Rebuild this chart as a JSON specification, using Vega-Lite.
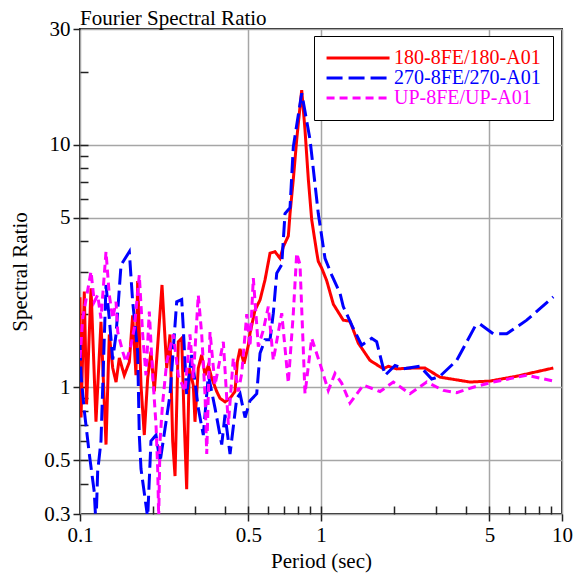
{
  "$schema": "https://vega.github.io/schema/vega-lite/v6.json",
  "width": 482,
  "height": 485,
  "autosize": {"type": "none"},
  "padding": {"left": 80, "top": 29, "right": 16, "bottom": 67},
  "background": "white",
  "config": {
    "font": "Liberation Serif",
    "view": {"stroke": "#222222", "strokeWidth": 2},
    "axis": {
      "labelFont": "Liberation Serif",
      "titleFont": "Liberation Serif",
      "labelFontSize": 21,
      "titleFontSize": 21,
      "titleFontWeight": "normal",
      "labelColor": "black",
      "titleColor": "black",
      "domain": false,
      "gridColor": "#a6a6a6",
      "gridWidth": 1.5,
      "tickColor": "#222222",
      "tickWidth": 1.5,
      "labelFlush": false,
      "labelOverlap": false
    }
  },
  "title": {
    "text": "Fourier Spectral Ratio",
    "anchor": "start",
    "frame": "group",
    "font": "Liberation Serif",
    "fontSize": 21,
    "fontWeight": "normal",
    "color": "black",
    "offset": 3,
    "dy": 14
  },
  "datasets": {
    "spec": [
      {"series": "180-8FE/180-A01", "period": 0.1, "ratio": 2.35},
      {"series": "180-8FE/180-A01", "period": 0.101, "ratio": 0.75},
      {"series": "180-8FE/180-A01", "period": 0.1042, "ratio": 2.48},
      {"series": "180-8FE/180-A01", "period": 0.1065, "ratio": 0.85},
      {"series": "180-8FE/180-A01", "period": 0.1111, "ratio": 2.56},
      {"series": "180-8FE/180-A01", "period": 0.1165, "ratio": 0.72},
      {"series": "180-8FE/180-A01", "period": 0.1222, "ratio": 1.86},
      {"series": "180-8FE/180-A01", "period": 0.1282, "ratio": 0.58},
      {"series": "180-8FE/180-A01", "period": 0.1323, "ratio": 1.65},
      {"series": "180-8FE/180-A01", "period": 0.1367, "ratio": 1.2},
      {"series": "180-8FE/180-A01", "period": 0.1411, "ratio": 1.05},
      {"series": "180-8FE/180-A01", "period": 0.1456, "ratio": 1.32},
      {"series": "180-8FE/180-A01", "period": 0.1527, "ratio": 1.12},
      {"series": "180-8FE/180-A01", "period": 0.1602, "ratio": 1.27},
      {"series": "180-8FE/180-A01", "period": 0.1654, "ratio": 1.98},
      {"series": "180-8FE/180-A01", "period": 0.1707, "ratio": 1.12},
      {"series": "180-8FE/180-A01", "period": 0.1735, "ratio": 2.74},
      {"series": "180-8FE/180-A01", "period": 0.1791, "ratio": 1.02},
      {"series": "180-8FE/180-A01", "period": 0.1848, "ratio": 0.635},
      {"series": "180-8FE/180-A01", "period": 0.1909, "ratio": 1.09},
      {"series": "180-8FE/180-A01", "period": 0.197, "ratio": 1.4},
      {"series": "180-8FE/180-A01", "period": 0.2034, "ratio": 0.96},
      {"series": "180-8FE/180-A01", "period": 0.2101, "ratio": 1.49},
      {"series": "180-8FE/180-A01", "period": 0.2189, "ratio": 2.64},
      {"series": "180-8FE/180-A01", "period": 0.229, "ratio": 1.2},
      {"series": "180-8FE/180-A01", "period": 0.2363, "ratio": 1.65},
      {"series": "180-8FE/180-A01", "period": 0.2424, "ratio": 0.6},
      {"series": "180-8FE/180-A01", "period": 0.2479, "ratio": 0.43},
      {"series": "180-8FE/180-A01", "period": 0.2558, "ratio": 1.54},
      {"series": "180-8FE/180-A01", "period": 0.2642, "ratio": 1.59},
      {"series": "180-8FE/180-A01", "period": 0.2701, "ratio": 0.77},
      {"series": "180-8FE/180-A01", "period": 0.2771, "ratio": 0.38},
      {"series": "180-8FE/180-A01", "period": 0.2841, "ratio": 1.2},
      {"series": "180-8FE/180-A01", "period": 0.2952, "ratio": 1.02},
      {"series": "180-8FE/180-A01", "period": 0.3, "ratio": 0.72},
      {"series": "180-8FE/180-A01", "period": 0.3096, "ratio": 1.2},
      {"series": "180-8FE/180-A01", "period": 0.3199, "ratio": 1.36},
      {"series": "180-8FE/180-A01", "period": 0.3302, "ratio": 1.12},
      {"series": "180-8FE/180-A01", "period": 0.3408, "ratio": 1.23},
      {"series": "180-8FE/180-A01", "period": 0.352, "ratio": 1.09},
      {"series": "180-8FE/180-A01", "period": 0.3692, "ratio": 0.96},
      {"series": "180-8FE/180-A01", "period": 0.381, "ratio": 0.9},
      {"series": "180-8FE/180-A01", "period": 0.4, "ratio": 0.87},
      {"series": "180-8FE/180-A01", "period": 0.4193, "ratio": 0.9},
      {"series": "180-8FE/180-A01", "period": 0.4397, "ratio": 0.96},
      {"series": "180-8FE/180-A01", "period": 0.4495, "ratio": 1.27},
      {"series": "180-8FE/180-A01", "period": 0.4613, "ratio": 1.44},
      {"series": "180-8FE/180-A01", "period": 0.4794, "ratio": 1.25},
      {"series": "180-8FE/180-A01", "period": 0.4995, "ratio": 1.49},
      {"series": "180-8FE/180-A01", "period": 0.5076, "ratio": 1.67},
      {"series": "180-8FE/180-A01", "period": 0.5324, "ratio": 2.08},
      {"series": "180-8FE/180-A01", "period": 0.5585, "ratio": 2.29},
      {"series": "180-8FE/180-A01", "period": 0.5857, "ratio": 2.77},
      {"series": "180-8FE/180-A01", "period": 0.6144, "ratio": 3.57},
      {"series": "180-8FE/180-A01", "period": 0.6443, "ratio": 3.62},
      {"series": "180-8FE/180-A01", "period": 0.6761, "ratio": 3.4},
      {"series": "180-8FE/180-A01", "period": 0.6977, "ratio": 3.8},
      {"series": "180-8FE/180-A01", "period": 0.7318, "ratio": 4.2},
      {"series": "180-8FE/180-A01", "period": 0.7438, "ratio": 5.2},
      {"series": "180-8FE/180-A01", "period": 0.7676, "ratio": 7.2},
      {"series": "180-8FE/180-A01", "period": 0.7929, "ratio": 10.5},
      {"series": "180-8FE/180-A01", "period": 0.8317, "ratio": 16.8},
      {"series": "180-8FE/180-A01", "period": 0.8583, "ratio": 11.5},
      {"series": "180-8FE/180-A01", "period": 0.886, "ratio": 7.2},
      {"series": "180-8FE/180-A01", "period": 0.915, "ratio": 4.9},
      {"series": "180-8FE/180-A01", "period": 0.9598, "ratio": 3.6},
      {"series": "180-8FE/180-A01", "period": 0.9745, "ratio": 3.3},
      {"series": "180-8FE/180-A01", "period": 1.0067, "ratio": 3.1},
      {"series": "180-8FE/180-A01", "period": 1.056, "ratio": 2.75},
      {"series": "180-8FE/180-A01", "period": 1.125, "ratio": 2.2},
      {"series": "180-8FE/180-A01", "period": 1.237, "ratio": 1.89},
      {"series": "180-8FE/180-A01", "period": 1.319, "ratio": 1.87},
      {"series": "180-8FE/180-A01", "period": 1.428, "ratio": 1.52},
      {"series": "180-8FE/180-A01", "period": 1.597, "ratio": 1.29},
      {"series": "180-8FE/180-A01", "period": 1.814, "ratio": 1.19},
      {"series": "180-8FE/180-A01", "period": 1.902, "ratio": 1.22},
      {"series": "180-8FE/180-A01", "period": 2.062, "ratio": 1.19},
      {"series": "180-8FE/180-A01", "period": 2.416, "ratio": 1.2},
      {"series": "180-8FE/180-A01", "period": 2.701, "ratio": 1.2},
      {"series": "180-8FE/180-A01", "period": 3.117, "ratio": 1.1},
      {"series": "180-8FE/180-A01", "period": 4.153, "ratio": 1.05},
      {"series": "180-8FE/180-A01", "period": 5.026, "ratio": 1.06},
      {"series": "180-8FE/180-A01", "period": 6.486, "ratio": 1.11},
      {"series": "180-8FE/180-A01", "period": 9.203, "ratio": 1.2},

      {"series": "270-8FE/270-A01", "period": 0.1, "ratio": 1.5},
      {"series": "270-8FE/270-A01", "period": 0.101, "ratio": 1.12},
      {"series": "270-8FE/270-A01", "period": 0.1042, "ratio": 0.8},
      {"series": "270-8FE/270-A01", "period": 0.1093, "ratio": 0.53},
      {"series": "270-8FE/270-A01", "period": 0.1146, "ratio": 0.37},
      {"series": "270-8FE/270-A01", "period": 0.1165, "ratio": 0.27},
      {"series": "270-8FE/270-A01", "period": 0.1184, "ratio": 0.45},
      {"series": "270-8FE/270-A01", "period": 0.1222, "ratio": 0.6},
      {"series": "270-8FE/270-A01", "period": 0.1282, "ratio": 2.64},
      {"series": "270-8FE/270-A01", "period": 0.1323, "ratio": 1.92},
      {"series": "270-8FE/270-A01", "period": 0.1367, "ratio": 1.3},
      {"series": "270-8FE/270-A01", "period": 0.1411, "ratio": 1.65},
      {"series": "270-8FE/270-A01", "period": 0.148, "ratio": 3.19},
      {"series": "270-8FE/270-A01", "period": 0.1602, "ratio": 3.62},
      {"series": "270-8FE/270-A01", "period": 0.1654, "ratio": 2.25},
      {"series": "270-8FE/270-A01", "period": 0.1735, "ratio": 1.4},
      {"series": "270-8FE/270-A01", "period": 0.1762, "ratio": 0.635},
      {"series": "270-8FE/270-A01", "period": 0.1791, "ratio": 0.46},
      {"series": "270-8FE/270-A01", "period": 0.1909, "ratio": 0.29},
      {"series": "270-8FE/270-A01", "period": 0.197, "ratio": 0.6},
      {"series": "270-8FE/270-A01", "period": 0.2067, "ratio": 0.635},
      {"series": "270-8FE/270-A01", "period": 0.2148, "ratio": 0.49},
      {"series": "270-8FE/270-A01", "period": 0.2363, "ratio": 0.93},
      {"series": "270-8FE/270-A01", "period": 0.2519, "ratio": 2.25},
      {"series": "270-8FE/270-A01", "period": 0.2642, "ratio": 2.3},
      {"series": "270-8FE/270-A01", "period": 0.2683, "ratio": 1.75},
      {"series": "270-8FE/270-A01", "period": 0.2771, "ratio": 0.93},
      {"series": "270-8FE/270-A01", "period": 0.2907, "ratio": 1.36},
      {"series": "270-8FE/270-A01", "period": 0.3096, "ratio": 0.82},
      {"series": "270-8FE/270-A01", "period": 0.3248, "ratio": 0.635},
      {"series": "270-8FE/270-A01", "period": 0.3408, "ratio": 1.12},
      {"series": "270-8FE/270-A01", "period": 0.3633, "ratio": 0.82},
      {"series": "270-8FE/270-A01", "period": 0.3873, "ratio": 0.58},
      {"series": "270-8FE/270-A01", "period": 0.3997, "ratio": 0.77},
      {"series": "270-8FE/270-A01", "period": 0.4193, "ratio": 0.53},
      {"series": "270-8FE/270-A01", "period": 0.447, "ratio": 0.9},
      {"series": "270-8FE/270-A01", "period": 0.4613, "ratio": 0.94},
      {"series": "270-8FE/270-A01", "period": 0.484, "ratio": 0.75},
      {"series": "270-8FE/270-A01", "period": 0.5076, "ratio": 0.88},
      {"series": "270-8FE/270-A01", "period": 0.5411, "ratio": 0.94},
      {"series": "270-8FE/270-A01", "period": 0.5585, "ratio": 1.38},
      {"series": "270-8FE/270-A01", "period": 0.5857, "ratio": 1.57},
      {"series": "270-8FE/270-A01", "period": 0.6144, "ratio": 1.57},
      {"series": "270-8FE/270-A01", "period": 0.6341, "ratio": 2.02},
      {"series": "270-8FE/270-A01", "period": 0.6551, "ratio": 2.95},
      {"series": "270-8FE/270-A01", "period": 0.6871, "ratio": 3.2},
      {"series": "270-8FE/270-A01", "period": 0.7091, "ratio": 5.2},
      {"series": "270-8FE/270-A01", "period": 0.7438, "ratio": 5.5},
      {"series": "270-8FE/270-A01", "period": 0.7676, "ratio": 9.8},
      {"series": "270-8FE/270-A01", "period": 0.8317, "ratio": 16.3},
      {"series": "270-8FE/270-A01", "period": 0.9004, "ratio": 10.5},
      {"series": "270-8FE/270-A01", "period": 0.9745, "ratio": 5.2},
      {"series": "270-8FE/270-A01", "period": 1.039, "ratio": 3.4},
      {"series": "270-8FE/270-A01", "period": 1.108, "ratio": 2.9},
      {"series": "270-8FE/270-A01", "period": 1.199, "ratio": 2.44},
      {"series": "270-8FE/270-A01", "period": 1.237, "ratio": 2.15},
      {"series": "270-8FE/270-A01", "period": 1.361, "ratio": 1.75},
      {"series": "270-8FE/270-A01", "period": 1.475, "ratio": 1.49},
      {"series": "270-8FE/270-A01", "period": 1.623, "ratio": 1.59},
      {"series": "270-8FE/270-A01", "period": 1.702, "ratio": 1.54},
      {"series": "270-8FE/270-A01", "period": 1.844, "ratio": 1.12},
      {"series": "270-8FE/270-A01", "period": 2.028, "ratio": 1.23},
      {"series": "270-8FE/270-A01", "period": 2.195, "ratio": 1.19},
      {"series": "270-8FE/270-A01", "period": 2.575, "ratio": 1.22},
      {"series": "270-8FE/270-A01", "period": 2.879, "ratio": 1.08},
      {"series": "270-8FE/270-A01", "period": 3.117, "ratio": 1.11},
      {"series": "270-8FE/270-A01", "period": 3.658, "ratio": 1.29},
      {"series": "270-8FE/270-A01", "period": 4.355, "ratio": 1.78},
      {"series": "270-8FE/270-A01", "period": 4.568, "ratio": 1.82},
      {"series": "270-8FE/270-A01", "period": 5.187, "ratio": 1.66},
      {"series": "270-8FE/270-A01", "period": 5.896, "ratio": 1.66},
      {"series": "270-8FE/270-A01", "period": 7.136, "ratio": 1.89},
      {"series": "270-8FE/270-A01", "period": 9.203, "ratio": 2.36},

      {"series": "UP-8FE/UP-A01", "period": 0.1, "ratio": 1.32},
      {"series": "UP-8FE/UP-A01", "period": 0.1026, "ratio": 1.92},
      {"series": "UP-8FE/UP-A01", "period": 0.1111, "ratio": 3.0},
      {"series": "UP-8FE/UP-A01", "period": 0.1146, "ratio": 2.25},
      {"series": "UP-8FE/UP-A01", "period": 0.1184, "ratio": 2.4},
      {"series": "UP-8FE/UP-A01", "period": 0.1222, "ratio": 1.92},
      {"series": "UP-8FE/UP-A01", "period": 0.1261, "ratio": 2.9},
      {"series": "UP-8FE/UP-A01", "period": 0.1282, "ratio": 3.62},
      {"series": "UP-8FE/UP-A01", "period": 0.1323, "ratio": 2.4},
      {"series": "UP-8FE/UP-A01", "period": 0.1367, "ratio": 1.92},
      {"series": "UP-8FE/UP-A01", "period": 0.1411, "ratio": 2.25},
      {"series": "UP-8FE/UP-A01", "period": 0.1434, "ratio": 1.69},
      {"series": "UP-8FE/UP-A01", "period": 0.1504, "ratio": 1.4},
      {"series": "UP-8FE/UP-A01", "period": 0.1552, "ratio": 1.27},
      {"series": "UP-8FE/UP-A01", "period": 0.1627, "ratio": 1.49},
      {"series": "UP-8FE/UP-A01", "period": 0.168, "ratio": 1.75},
      {"series": "UP-8FE/UP-A01", "period": 0.1762, "ratio": 2.9},
      {"series": "UP-8FE/UP-A01", "period": 0.182, "ratio": 1.65},
      {"series": "UP-8FE/UP-A01", "period": 0.1878, "ratio": 1.12},
      {"series": "UP-8FE/UP-A01", "period": 0.1939, "ratio": 2.05},
      {"series": "UP-8FE/UP-A01", "period": 0.2003, "ratio": 1.12},
      {"series": "UP-8FE/UP-A01", "period": 0.2067, "ratio": 0.7},
      {"series": "UP-8FE/UP-A01", "period": 0.2101, "ratio": 0.46},
      {"series": "UP-8FE/UP-A01", "period": 0.2121, "ratio": 0.29},
      {"series": "UP-8FE/UP-A01", "period": 0.2148, "ratio": 0.6},
      {"series": "UP-8FE/UP-A01", "period": 0.22, "ratio": 0.85},
      {"series": "UP-8FE/UP-A01", "period": 0.229, "ratio": 1.27},
      {"series": "UP-8FE/UP-A01", "period": 0.2439, "ratio": 1.65},
      {"series": "UP-8FE/UP-A01", "period": 0.2558, "ratio": 1.12},
      {"series": "UP-8FE/UP-A01", "period": 0.2727, "ratio": 0.96},
      {"series": "UP-8FE/UP-A01", "period": 0.286, "ratio": 1.65},
      {"series": "UP-8FE/UP-A01", "period": 0.2952, "ratio": 1.09},
      {"series": "UP-8FE/UP-A01", "period": 0.3096, "ratio": 2.4},
      {"series": "UP-8FE/UP-A01", "period": 0.3199, "ratio": 1.65},
      {"series": "UP-8FE/UP-A01", "period": 0.3302, "ratio": 0.93},
      {"series": "UP-8FE/UP-A01", "period": 0.3356, "ratio": 0.53},
      {"series": "UP-8FE/UP-A01", "period": 0.3463, "ratio": 1.69},
      {"series": "UP-8FE/UP-A01", "period": 0.3633, "ratio": 1.02},
      {"series": "UP-8FE/UP-A01", "period": 0.3933, "ratio": 1.54},
      {"series": "UP-8FE/UP-A01", "period": 0.4126, "ratio": 0.7},
      {"series": "UP-8FE/UP-A01", "period": 0.4327, "ratio": 1.32},
      {"series": "UP-8FE/UP-A01", "period": 0.4539, "ratio": 0.96},
      {"series": "UP-8FE/UP-A01", "period": 0.4689, "ratio": 1.14},
      {"series": "UP-8FE/UP-A01", "period": 0.484, "ratio": 1.65},
      {"series": "UP-8FE/UP-A01", "period": 0.4919, "ratio": 2.0},
      {"series": "UP-8FE/UP-A01", "period": 0.5076, "ratio": 1.47},
      {"series": "UP-8FE/UP-A01", "period": 0.5238, "ratio": 2.82},
      {"series": "UP-8FE/UP-A01", "period": 0.5494, "ratio": 1.47},
      {"series": "UP-8FE/UP-A01", "period": 0.5764, "ratio": 1.72},
      {"series": "UP-8FE/UP-A01", "period": 0.6045, "ratio": 2.15},
      {"series": "UP-8FE/UP-A01", "period": 0.6341, "ratio": 1.29},
      {"series": "UP-8FE/UP-A01", "period": 0.6871, "ratio": 2.02},
      {"series": "UP-8FE/UP-A01", "period": 0.7318, "ratio": 1.04},
      {"series": "UP-8FE/UP-A01", "period": 0.7676, "ratio": 2.02},
      {"series": "UP-8FE/UP-A01", "period": 0.7929, "ratio": 3.57},
      {"series": "UP-8FE/UP-A01", "period": 0.8183, "ratio": 3.2},
      {"series": "UP-8FE/UP-A01", "period": 0.8583, "ratio": 0.94},
      {"series": "UP-8FE/UP-A01", "period": 0.915, "ratio": 1.59},
      {"series": "UP-8FE/UP-A01", "period": 0.9906, "ratio": 1.25},
      {"series": "UP-8FE/UP-A01", "period": 1.072, "ratio": 0.97},
      {"series": "UP-8FE/UP-A01", "period": 1.143, "ratio": 1.14},
      {"series": "UP-8FE/UP-A01", "period": 1.218, "ratio": 1.04},
      {"series": "UP-8FE/UP-A01", "period": 1.319, "ratio": 0.86},
      {"series": "UP-8FE/UP-A01", "period": 1.498, "ratio": 1.02},
      {"series": "UP-8FE/UP-A01", "period": 1.757, "ratio": 0.96},
      {"series": "UP-8FE/UP-A01", "period": 1.995, "ratio": 1.05},
      {"series": "UP-8FE/UP-A01", "period": 2.341, "ratio": 0.94},
      {"series": "UP-8FE/UP-A01", "period": 2.745, "ratio": 1.05},
      {"series": "UP-8FE/UP-A01", "period": 3.217, "ratio": 0.97},
      {"series": "UP-8FE/UP-A01", "period": 3.658, "ratio": 0.95},
      {"series": "UP-8FE/UP-A01", "period": 4.285, "ratio": 1.0},
      {"series": "UP-8FE/UP-A01", "period": 5.187, "ratio": 1.05},
      {"series": "UP-8FE/UP-A01", "period": 7.136, "ratio": 1.12},
      {"series": "UP-8FE/UP-A01", "period": 9.203, "ratio": 1.06}
    ]
  },
  "data": {"name": "spec"},
  "layer": [
    {
      "mark": {"type": "line", "clip": true, "strokeWidth": 3},
      "encoding": {
        "x": {
          "field": "period", "type": "quantitative",
          "scale": {"type": "log", "domain": [0.1, 10], "nice": false},
          "axis": {"orient": "bottom", "values": [0.1, 0.5, 1, 5, 10], "format": "~g", "title": "Period (sec)", "labelFont": "Liberation Serif", "titleFont": "Liberation Serif", "labelFontSize": 21, "titleFontSize": 21, "tickSize": 7, "labelPadding": 3, "titlePadding": 5, "grid": true}
        },
        "y": {
          "field": "ratio", "type": "quantitative",
          "scale": {"type": "log", "domain": [0.3, 30], "nice": false},
          "axis": {"orient": "left", "values": [0.3, 0.5, 1, 5, 10, 30], "format": "~g", "title": "Spectral Ratio", "labelFont": "Liberation Serif", "titleFont": "Liberation Serif", "labelFontSize": 21, "titleFontSize": 21, "tickSize": 7, "labelPadding": 3, "titlePadding": 13, "grid": true}
        },
        "color": {
          "field": "series", "type": "nominal",
          "scale": {"domain": ["180-8FE/180-A01", "270-8FE/270-A01", "UP-8FE/UP-A01"], "range": ["#ff0000", "#0000ff", "#ff00ff"]},
          "legend": {
            "orient": "none", "legendX": 234, "legendY": 7, "title": null,
            "symbolType": "M-1.2,0H6.8", "symbolSize": 248, "symbolStrokeWidth": 3,
            "labelFont": "Liberation Serif", "labelFontSize": 20, "labelLimit": 400,
            "labelColor": {"expr": "datum.label == '180-8FE/180-A01' ? '#ff0000' : datum.label == '270-8FE/270-A01' ? '#0000ff' : '#ff00ff'"},
            "strokeColor": "black", "fillColor": "white", "padding": 12, "rowPadding": 0, "labelOffset": 48
          }
        },
        "strokeDash": {
          "field": "series", "type": "nominal",
          "scale": {"domain": ["180-8FE/180-A01", "270-8FE/270-A01", "UP-8FE/UP-A01"], "range": [[1, 0], [16, 6], [8, 5]]},
          "legend": {
            "orient": "none", "legendX": 234, "legendY": 7, "title": null,
            "symbolType": "M-1.2,0H6.8", "symbolSize": 248, "symbolStrokeWidth": 3,
            "labelFont": "Liberation Serif", "labelFontSize": 20, "labelLimit": 400,
            "labelColor": {"expr": "datum.label == '180-8FE/180-A01' ? '#ff0000' : datum.label == '270-8FE/270-A01' ? '#0000ff' : '#ff00ff'"},
            "strokeColor": "black", "fillColor": "white", "padding": 12, "rowPadding": 0, "labelOffset": 48
          }
        }
      }
    },
    {
      "mark": {"type": "line", "strokeOpacity": 0},
      "encoding": {
        "x": {
          "field": "period", "type": "quantitative",
          "axis": {"orient": "bottom", "values": [0.2, 0.3, 0.4, 0.5, 0.6, 0.7, 0.8, 0.9, 1, 2, 3, 4, 5, 6, 7, 8, 9], "labels": false, "grid": false, "title": null, "tickSize": -8}
        },
        "y": {
          "field": "ratio", "type": "quantitative",
          "axis": {"orient": "left", "values": [0.4, 0.5, 0.6, 0.7, 0.8, 0.9, 1, 2, 3, 4, 5, 6, 7, 8, 9, 10, 20], "labels": false, "grid": false, "title": null, "tickSize": -8}
        },
        "detail": {"field": "series", "type": "nominal"}
      }
    }
  ],
  "resolve": {"axis": {"x": "independent", "y": "independent"}}
}
